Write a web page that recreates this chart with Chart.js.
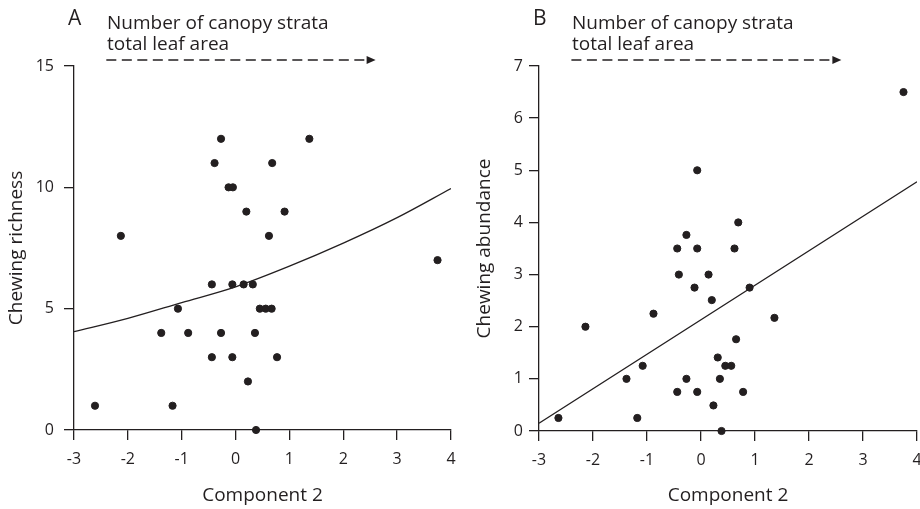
<!DOCTYPE html>
<html>
<head>
<meta charset="utf-8">
<script src="https://cdn.jsdelivr.net/npm/chart.js@4/dist/chart.umd.min.js"></script>
<style>
  html, body { margin: 0; padding: 0; background: #fff; }
  #wrap { position: relative; width: 920px; height: 509px; overflow: hidden; }
  #panelA { position: absolute; left: 0; top: 0; }
  #panelB { position: absolute; left: 460px; top: 0; }
</style>
</head>
<body>
<div id="wrap">
  <canvas id="panelA" width="480" height="509"></canvas>
  <canvas id="panelB" width="480" height="509"></canvas>
</div>
<script>
// component 2 scores (same sites in both panels)
var compA = [-2.61, -2.13, -1.17, -1.07, -1.38, -0.88, -0.44, -0.44, -0.39, -0.27, -0.27, -0.13, -0.05, -0.06, -0.06,
             0.15, 0.20, 0.23, 0.32, 0.36, 0.38, 0.45, 0.56, 0.67, 0.62, 0.68, 0.77, 0.91, 1.37, 3.75];
var richness = [1, 8, 1, 5, 4, 4, 3, 6, 11, 12, 4, 10, 10, 6, 3,
                6, 9, 2, 6, 4, 0, 5, 5, 5, 8, 11, 3, 9, 12, 7];

var compB = [-2.64, -2.14, -1.18, -1.38, -1.08, -0.88, -0.44, -0.44, -0.41, -0.27, -0.27, -0.12, -0.07, -0.07, -0.07,
             0.14, 0.20, 0.23, 0.31, 0.35, 0.38, 0.45, 0.56, 0.62, 0.65, 0.69, 0.78, 0.90, 1.36, 3.75];
var abundance = [0.25, 2.0, 0.25, 1.0, 1.25, 2.25, 0.75, 3.5, 3.0, 3.76, 1.0, 2.75, 3.5, 5.0, 0.75,
                 3.0, 2.51, 0.49, 1.41, 1.0, 0, 1.25, 1.25, 3.5, 1.76, 4.0, 0.75, 2.75, 2.17, 6.5];

// fitted curves
var fitAx = [-3, -2, -1, 0, 1, 2, 3, 4];
var fitAy = [4.05, 4.6, 5.25, 5.9, 6.75, 7.7, 8.75, 9.95];
var fitBx = [-3, 4];
var fitBy = [0.15, 4.78];

var xTickLabels = ['-3', '-2', '-1', '0', '1', '2', '3', '4'];
var yTicksA = ['0', '5', '10', '15'];
var yTicksB = ['0', '1', '2', '3', '4', '5', '6', '7'];

var headerLines = ['Number of canopy strata', 'total leaf area'];

var INK = '#231f20';
var FONT = '"Open Sans", Lato, sans-serif';

function pairs(xs, ys) {
  return xs.map(function (x, i) { return { x: x, y: ys[i] }; });
}

// panel letter, header text and dashed arrow above the plot
var headerPlugin = {
  id: 'header',
  afterDraw: function (chart, args, opts) {
    var ctx = chart.ctx;
    var area = chart.chartArea;
    var xs = chart.scales.x;
    ctx.save();
    ctx.fillStyle = INK;
    ctx.textBaseline = 'alphabetic';
    ctx.font = '21px ' + FONT;
    ctx.fillText(opts.letter, area.left - 6, 25);
    ctx.font = '19px ' + FONT;
    ctx.fillText(headerLines[0], area.left + 33, 29);
    ctx.fillText(headerLines[1], area.left + 33, 50);

    var x0 = xs.getPixelForValue(-2.4);
    var x1 = xs.getPixelForValue(2.6);
    var y = 60;
    ctx.strokeStyle = INK;
    ctx.lineWidth = 1.6;
    ctx.setLineDash([10, 5.5]);
    ctx.beginPath();
    ctx.moveTo(x0, y);
    ctx.lineTo(x1 - 6, y);
    ctx.stroke();
    ctx.setLineDash([]);
    ctx.beginPath();
    ctx.moveTo(x1 - 9, y - 4);
    ctx.lineTo(x1, y);
    ctx.lineTo(x1 - 9, y + 4);
    ctx.closePath();
    ctx.fill();
    ctx.restore();
  }
};

function makePanel(id, cfg) {
  return new Chart(document.getElementById(id), {
    type: 'scatter',
    data: {
      datasets: [{
        data: pairs(cfg.px, cfg.py),
        backgroundColor: INK,
        borderColor: INK,
        pointRadius: 3.6,
        pointHoverRadius: 3.6,
        clip: false
      }, {
        data: pairs(cfg.fx, cfg.fy),
        showLine: true,
        borderColor: INK,
        borderWidth: 1.3,
        pointRadius: 0,
        cubicInterpolationMode: 'monotone',
        fill: false
      }]
    },
    options: {
      responsive: false,
      animation: false,
      devicePixelRatio: 1,
      layout: { padding: { left: 0, top: 66, right: cfg.padRight, bottom: 0 } },
      plugins: {
        legend: { display: false },
        tooltip: { enabled: false },
        header: { letter: cfg.letter }
      },
      scales: {
        x: {
          type: 'linear',
          min: -3, max: 4,
          afterFit: function (s) { s.height = cfg.xHeight; },
          ticks: {
            stepSize: 1,
            color: INK,
            padding: 10,
            font: { family: FONT, size: 16 },
            callback: function (v) { return xTickLabels[v + 3]; }
          },
          grid: { drawOnChartArea: false, drawTicks: true, tickLength: 10, color: INK, lineWidth: 1.3 },
          border: { display: true, color: INK, width: 1.3 },
          title: {
            display: true,
            text: 'Component 2',
            color: INK,
            font: { family: FONT, size: 19 },
            padding: { top: 0, bottom: 2 }
          }
        },
        y: {
          type: 'linear',
          min: 0, max: cfg.yMax,
          afterFit: function (s) { s.width = cfg.yWidth; },
          ticks: {
            stepSize: cfg.yStep,
            color: INK,
            padding: cfg.yPad,
            font: { family: FONT, size: 16 },
            callback: function (v) { return cfg.yLabels[Math.round(v / cfg.yStep)]; }
          },
          grid: { drawOnChartArea: false, drawTicks: true, tickLength: 10, color: INK, lineWidth: 1.3 },
          border: { display: true, color: INK, width: 1.3 },
          title: {
            display: true,
            text: cfg.yTitle,
            color: INK,
            font: { family: FONT, size: 19 },
            padding: { top: cfg.yTitlePad, bottom: 0 }
          }
        }
      }
    },
    plugins: [headerPlugin]
  });
}

makePanel('panelA', {
  letter: 'A',
  px: compA, py: richness,
  fx: fitAx, fy: fitAy,
  yMax: 15, yStep: 5, yLabels: yTicksA,
  yTitle: 'Chewing richness',
  yWidth: 74, xHeight: 79, padRight: 29, yPad: 10, yTitlePad: 5
});

makePanel('panelB', {
  letter: 'B',
  px: compB, py: abundance,
  fx: fitBx, fy: fitBy,
  yMax: 7, yStep: 1, yLabels: yTicksB,
  yTitle: 'Chewing abundance',
  yWidth: 79, xHeight: 78, padRight: 23, yPad: 6, yTitlePad: 13
});
</script>
</body>
</html>
